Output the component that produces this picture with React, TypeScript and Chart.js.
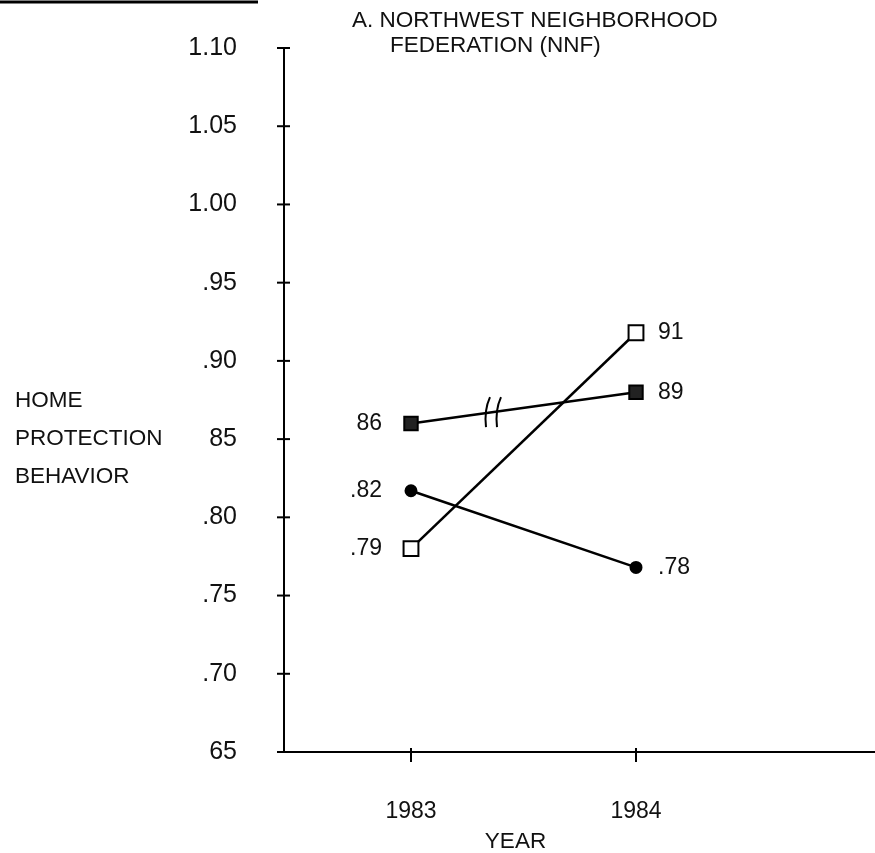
import React, { useEffect, useRef } from 'react';
import { Chart, registerables } from 'chart.js';

Chart.register(...registerables);

// ---- data ----
const years = [1983, 1984];
const yearLabels = ['1983', '1984'];
const filledSquare = [0.86, 0.88];
const filledCircle = [0.817, 0.768];
const openSquare = [0.78, 0.918];
const filledSquareLabels = ['86', '89'];
const filledCircleLabels = ['.82', '.78'];
const openSquareLabels = ['.79', '91'];
const yTicks = [0.65, 0.7, 0.75, 0.8, 0.85, 0.9, 0.95, 1.0, 1.05, 1.1];
const yTickLabels = ['65', '.70', '.75', '.80', '85', '.90', '.95', '1.00', '1.05', '1.10'];
const titleLines = ['A. NORTHWEST NEIGHBORHOOD', 'FEDERATION (NNF)'];
const yTitleLines = ['HOME', 'PROTECTION', 'BEHAVIOR'];
const xTitle = 'YEAR';

const FAMILY = '"Liberation Sans", Arial, sans-serif';
const INK = '#111';

const decorPlugin = {
  id: 'decor',
  afterDraw(chart: any) {
    const { ctx, chartArea } = chart;
    const xs = chart.scales.x;
    const ys = chart.scales.y;
    ctx.save();
    ctx.strokeStyle = '#000';
    ctx.fillStyle = INK;
    ctx.lineWidth = 2;
    const line = (x1: number, y1: number, x2: number, y2: number) => {
      ctx.beginPath();
      ctx.moveTo(x1, y1);
      ctx.lineTo(x2, y2);
      ctx.stroke();
    };
    // y tick crosses
    yTicks.forEach((v) => {
      const py = ys.getPixelForValue(v);
      line(chartArea.left - 7, py, chartArea.left + 6, py);
    });
    // x ticks
    years.forEach((v) => {
      const px = xs.getPixelForValue(v);
      line(px, chartArea.bottom - 4, px, chartArea.bottom + 10);
    });
    // break mark on the filled-square line
    const meta = chart.getDatasetMeta(0);
    const a = meta.data[0];
    const b = meta.data[1];
    const t = 0.36;
    const bx = a.x + (b.x - a.x) * t;
    const by = a.y + (b.y - a.y) * t;
    [-5, 6].forEach((dx) => {
      ctx.beginPath();
      ctx.moveTo(bx + dx + 3, by - 15);
      ctx.quadraticCurveTo(bx + dx - 3, by - 2, bx + dx - 1, by + 15);
      ctx.stroke();
    });
    // point value labels
    const drawLabels = (dsIndex: number, labels: string[]) => {
      const m = chart.getDatasetMeta(dsIndex);
      ctx.font = `23px ${FAMILY}`;
      ctx.textBaseline = 'middle';
      m.data.forEach((p: any, i: number) => {
        if (i === 0) {
          ctx.textAlign = 'right';
          ctx.fillText(labels[i], p.x - 29, p.y);
        } else {
          ctx.textAlign = 'left';
          ctx.fillText(labels[i], p.x + 22, p.y);
        }
      });
    };
    drawLabels(0, filledSquareLabels);
    drawLabels(1, filledCircleLabels);
    drawLabels(2, openSquareLabels);
    // titles
    ctx.font = `22.5px ${FAMILY}`;
    ctx.textAlign = 'left';
    ctx.textBaseline = 'middle';
    ctx.fillText(titleLines[0], 352, 21);
    ctx.fillText(titleLines[1], 390, 46);
    yTitleLines.forEach((s, i) => ctx.fillText(s, 15, 401 + i * 38));
    ctx.textAlign = 'center';
    ctx.fillText(xTitle, (xs.getPixelForValue(years[0]) + xs.getPixelForValue(years[1])) / 2 - 8, 842);
    // cut-off rule at the top-left
    ctx.lineWidth = 3;
    line(0, 2, 258, 2);
    ctx.restore();
  },
};

export default function App() {
  const ref = useRef<HTMLCanvasElement>(null);
  useEffect(() => {
    const mk = (vals: number[], style: string, radius: number, bg: string) => ({
      data: years.map((yr, i) => ({ x: yr, y: vals[i] })),
      borderColor: '#000',
      borderWidth: 2.5,
      pointStyle: style,
      pointRadius: radius,
      pointBackgroundColor: bg,
      pointBorderColor: '#000',
      pointBorderWidth: 2,
      tension: 0,
      fill: false,
    });
    const chart = new Chart(ref.current as HTMLCanvasElement, {
      type: 'line',
      data: {
        datasets: [
          mk(filledSquare, 'rect', 9.5, '#222'),
          mk(filledCircle, 'circle', 5.5, '#000'),
          mk(openSquare, 'rect', 10.5, '#fff'),
        ],
      },
      options: {
        animation: false,
        responsive: true,
        maintainAspectRatio: false,
        layout: { autoPadding: false, padding: { top: 48, right: 0, bottom: 0, left: 0 } },
        plugins: { legend: { display: false }, tooltip: { enabled: false }, title: { display: false } },
        scales: {
          x: {
            type: 'linear',
            min: 1982.4356,
            max: 1985.0622,
            afterBuildTicks: (s: any) => {
              s.ticks = years.map((v) => ({ value: v }));
            },
            afterFit: (s: any) => {
              s.height = 101;
              s.paddingLeft = 0;
              s.paddingRight = 0;
            },
            grid: { display: false, drawTicks: false },
            border: { display: true, color: '#000', width: 2 },
            ticks: {
              padding: 46,
              autoSkip: false,
              maxRotation: 0,
              color: INK,
              font: { family: FAMILY, size: 23 },
              callback: (_v: any, i: number) => yearLabels[i],
            },
          },
          y: {
            type: 'linear',
            min: 0.65,
            max: 1.1,
            afterBuildTicks: (s: any) => {
              s.ticks = yTicks.map((v) => ({ value: v }));
            },
            afterFit: (s: any) => {
              s.width = 284;
              s.paddingTop = 0;
              s.paddingBottom = 0;
            },
            grid: { display: false, drawTicks: false },
            border: { display: true, color: '#000', width: 2 },
            ticks: {
              padding: 47,
              autoSkip: false,
              color: INK,
              font: { family: FAMILY, size: 25 },
              callback: (_v: any, i: number) => yTickLabels[i],
            },
          },
        },
      },
      plugins: [decorPlugin],
    } as any);
    return () => chart.destroy();
  }, []);
  return (
    <div style={{ position: 'fixed', left: 0, top: 0, width: 875, height: 853, background: '#fff' }}>
      <canvas ref={ref} />
    </div>
  );
}
